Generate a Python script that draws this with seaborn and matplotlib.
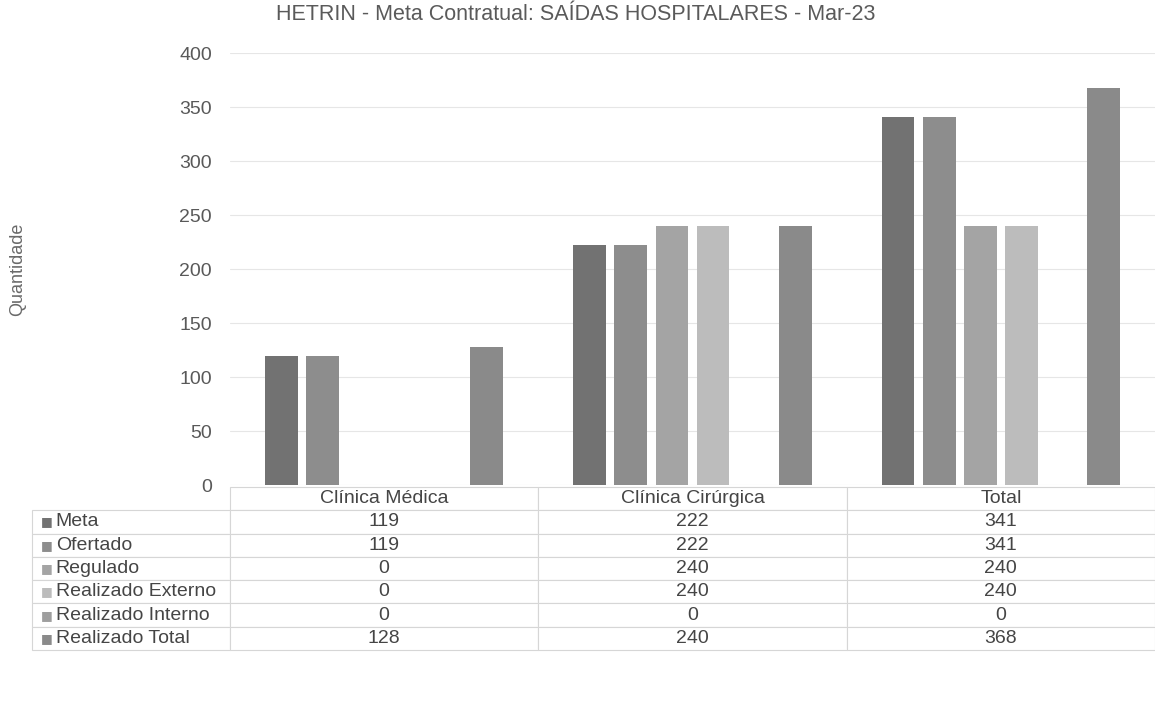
import matplotlib
matplotlib.use('Agg')
import matplotlib.pyplot as plt
import seaborn as sns
import pandas as pd

# Dados do gráfico
categorias = ['Clínica Médica', 'Clínica Cirúrgica', 'Total']
series = ['Meta', 'Ofertado', 'Regulado', 'Realizado Externo', 'Realizado Interno', 'Realizado Total']
meta = [119, 222, 341]
ofertado = [119, 222, 341]
regulado = [0, 240, 240]
realizado_externo = [0, 240, 240]
realizado_interno = [0, 0, 0]
realizado_total = [128, 240, 368]
valores = [meta, ofertado, regulado, realizado_externo, realizado_interno, realizado_total]
cores = ['#727272', '#8d8d8d', '#a4a4a4', '#bcbcbc', '#9e9e9e', '#8a8a8a']

linhas = []
for serie, vals in zip(series, valores):
    for cat, v in zip(categorias, vals):
        linhas.append({'Categoria': cat, 'Serie': serie, 'Quantidade': v})
df = pd.DataFrame(linhas)

sns.set_style('white')
plt.rcParams['font.family'] = ['Liberation Sans', 'DejaVu Sans']

W, H = 1155, 702
fig = plt.figure(figsize=(W / 100, H / 100), dpi=100)
ax_l, ax_r, ax_b, ax_t = 230, 1155, 485, 53
ax = fig.add_axes([ax_l / W, (H - ax_b) / H, (ax_r - ax_l) / W, (ax_b - ax_t) / H])

sns.barplot(data=df, x='Categoria', y='Quantidade', hue='Serie', order=categorias,
            hue_order=series, palette=cores, saturation=1, width=0.8, gap=0.2,
            legend=False, ax=ax, errorbar=None, linewidth=0)

ax.set_ylim(0, 400)
ax.set_yticks(range(0, 401, 50))
ax.set_xlim(-0.5, 2.5)
ax.set_xticks([])
ax.set_xlabel('')
ax.grid(axis='y', color='#e6e6e6', linewidth=0.8)
ax.set_axisbelow(True)
for s in ax.spines.values():
    s.set_visible(False)
ax.tick_params(axis='y', length=0, pad=13, labelsize=14, labelcolor='#595959')
ax.set_ylabel('Quantidade', fontsize=13, color='#6a6a6a')
largura = ax_r - ax_l
ax.yaxis.set_label_coords((26 - ax_l) / largura, 0.5)

fig.text(576 / W, 1 - 15 / H, 'HETRIN - Meta Contratual: SAÍDAS HOSPITALARES - Mar-23',
         ha='center', va='center', fontsize=15.5, color='#5a5a5a')

# Tabela de dados abaixo do gráfico
x0 = (32 - ax_l) / largura
tab_top = (ax_b - 487) / (ax_b - ax_t)
tab_bot = (ax_b - 650) / (ax_b - ax_t)
cell_text = [[s] + [str(v) for v in vals] for s, vals in zip(series, valores)]
col_w = [(ax_l - 32) / largura] + [1 / 3] * 3
tab = ax.table(cellText=cell_text, colLabels=[''] + categorias, colWidths=col_w,
               cellLoc='center', bbox=[x0, tab_bot, 1 - x0, tab_top - tab_bot])
tab.auto_set_font_size(False)
tab.set_fontsize(14)
for (r, c), cell in tab.get_celld().items():
    cell.set_edgecolor('#d6d6d6')
    cell.set_linewidth(0.8)
    cell.get_text().set_color('#454545')
    if r == 0 and c == 0:
        cell.visible_edges = ''
    if c == 0 and r > 0:
        cell.get_text().set_ha('left')
        cell.PAD = 0.12

n_rows = len(series) + 1
row_h = (tab_top - tab_bot) / n_rows
for i, cor in enumerate(cores):
    yc = tab_top - row_h * (i + 1.5)
    ax.text((41 - ax_l) / largura, yc, '■', color=cor, fontsize=9, va='center',
            ha='left', transform=ax.transAxes, family=['DejaVu Sans'])

fig.savefig('out.png', dpi=100)
